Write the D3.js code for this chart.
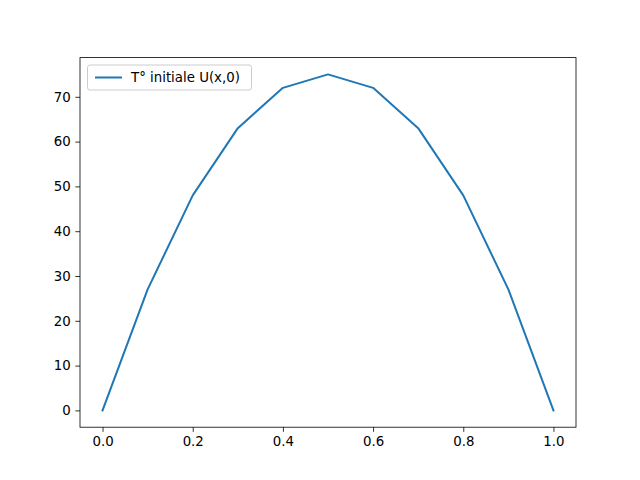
<!DOCTYPE html>
<html><head><meta charset="utf-8">
<script src="https://cdn.jsdelivr.net/npm/d3@7"></script>
<style>body{margin:0;background:#fff}text{font-family:"DejaVu Sans",sans-serif}</style>
</head><body>
<script>
const xValues = [0.0,0.1,0.2,0.3,0.4,0.5,0.6,0.7,0.8,0.9,1.0];
const uValues = [0,27,48,63,72,75,72,63,48,27,0];
const xTicks = [0.0,0.2,0.4,0.6,0.8,1.0];
const yTicks = [0,10,20,30,40,50,60,70];
const seriesLabel = "T° initiale U(x,0)";

const W=640,H=480, L=80, R=576, T=57.6, B=427.2;
const svg=d3.select("body").append("svg").attr("width",W).attr("height",H);
svg.append("rect").attr("width",W).attr("height",H).attr("fill","#fff");
const x=d3.scaleLinear().domain([-0.05,1.05]).range([L,R]);
const y=d3.scaleLinear().domain([-3.75,78.75]).range([B,T]);

const line=d3.line().x((d,i)=>x(xValues[i])).y(d=>y(d));
svg.append("path").datum(uValues).attr("d",line).attr("fill","none")
  .attr("stroke","#1f77b4").attr("stroke-width",2).attr("stroke-linejoin","round").attr("stroke-linecap","square");

const xa=svg.append("g").attr("transform",`translate(0,${B})`)
  .call(d3.axisBottom(x).tickValues(xTicks).tickFormat(d3.format(".1f")).tickSize(4.67).tickPadding(4.67).tickSizeOuter(0));
const ya=svg.append("g").attr("transform",`translate(${L},0)`)
  .call(d3.axisLeft(y).tickValues(yTicks).tickFormat(d3.format("d")).tickSize(4.67).tickPadding(4.67).tickSizeOuter(0));
[xa,ya].forEach(g=>{g.select(".domain").remove();g.selectAll("text").attr("font-size","13.33px").attr("fill","#000").attr("font-family","DejaVu Sans");g.selectAll("line").attr("stroke","#000").attr("stroke-width",0.8);});

svg.append("rect").attr("x",L).attr("y",T).attr("width",R-L).attr("height",B-T)
  .attr("fill","none").attr("stroke","#000").attr("stroke-width",0.8);

const lg=svg.append("g");
lg.append("rect").attr("x",87.5).attr("y",65).attr("width",164).attr("height",25).attr("rx",2.5)
  .attr("fill","#fff").attr("fill-opacity",0.8).attr("stroke","#ccc").attr("stroke-width",1);
lg.append("line").attr("x1",95).attr("x2",122).attr("y1",77.5).attr("y2",77.5).attr("stroke","#1f77b4").attr("stroke-width",2);
lg.append("text").attr("x",131).attr("y",82).attr("font-size","13.33px").text(seriesLabel);
</script>
</body></html>
